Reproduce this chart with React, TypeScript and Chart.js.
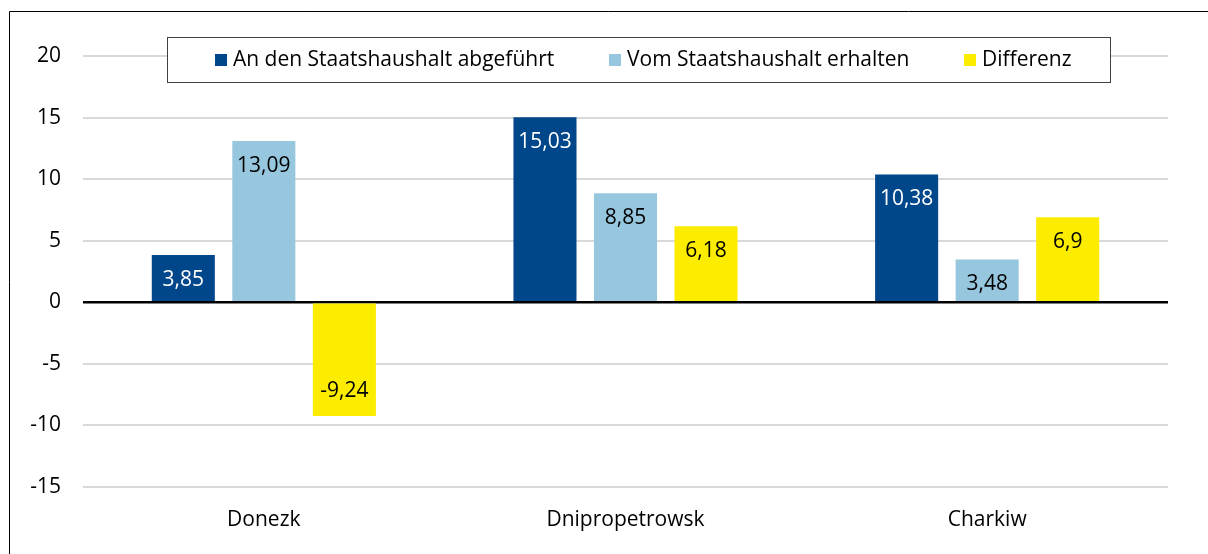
import { useEffect, useRef } from "react";
import { Chart, registerables } from "chart.js";

Chart.register(...registerables);

const categories = ["Donezk", "Dnipropetrowsk", "Charkiw"];
const seriesNames = [
  "An den Staatshaushalt abgeführt",
  "Vom Staatshaushalt erhalten",
  "Differenz",
];
const abgefuehrt = [3.85, 15.03, 10.38];
const erhalten = [13.09, 8.85, 3.48];
const differenz = [-9.24, 6.18, 6.9];
const yMin = -15;
const yMax = 20;
const yStep = 5;

const colors = ["#00468a", "#96c7de", "#fbec00"];
const labelColors = ["#ffffff", "#000000", "#000000"];
const FONT = "'Open Sans', sans-serif";
const FS = 21;

const framePlugin = {
  id: "frame",
  beforeDraw(chart: any) {
    const c = chart.ctx;
    c.save();
    c.fillStyle = "#ffffff";
    c.fillRect(0, 0, chart.width, chart.height);
    c.strokeStyle = "#000000";
    c.lineWidth = 1;
    c.beginPath();
    c.moveTo(9.5, chart.height);
    c.lineTo(9.5, 11.5);
    c.lineTo(chart.width, 11.5);
    c.stroke();
    c.restore();
  },
};

const legendPlugin = {
  id: "boxLegend",
  afterDraw(chart: any) {
    const c = chart.ctx;
    c.save();
    c.fillStyle = "#ffffff";
    c.fillRect(167, 37, 943, 45);
    c.strokeStyle = "#404040";
    c.lineWidth = 1;
    c.strokeRect(167.5, 37.5, 943, 45);
    const sqX = [215, 609, 964];
    c.font = `${FS}px ${FONT}`;
    c.textBaseline = "middle";
    c.textAlign = "left";
    chart.data.datasets.forEach((ds: any, i: number) => {
      c.fillStyle = ds.backgroundColor;
      c.fillRect(sqX[i], 54, 12, 12);
      c.fillStyle = "#000000";
      c.fillText(ds.label, sqX[i] + 18, 60);
    });
    c.restore();
  },
};

const valueLabelPlugin = {
  id: "valueLabels",
  afterDatasetsDraw(chart: any) {
    const c = chart.ctx;
    c.save();
    c.font = `${FS}px ${FONT}`;
    c.textAlign = "center";
    c.textBaseline = "middle";
    chart.data.datasets.forEach((ds: any, i: number) => {
      const meta = chart.getDatasetMeta(i);
      meta.data.forEach((el: any, j: number) => {
        const v = ds.data[j];
        const y = v >= 0 ? el.y + 25 : el.y - 25;
        c.fillStyle = labelColors[i];
        c.fillText(String(v).replace(".", ","), el.x, y);
      });
    });
    c.restore();
  },
};

export default function App() {
  const ref = useRef<HTMLCanvasElement | null>(null);
  useEffect(() => {
    document.body.style.margin = "0";
    const chart = new Chart(ref.current as HTMLCanvasElement, {
      type: "bar",
      data: {
        labels: categories,
        datasets: [abgefuehrt, erhalten, differenz].map((d, i) => ({
          label: seriesNames[i],
          data: d,
          backgroundColor: colors[i],
          borderWidth: 0,
          categoryPercentage: 0.668,
          barPercentage: 0.783,
        })),
      },
      options: {
        animation: false,
        responsive: false,
        maintainAspectRatio: false,
        layout: { padding: { left: 10, right: 40, top: 56, bottom: 0 } },
        plugins: {
          legend: { display: false },
          tooltip: { enabled: false },
          title: { display: false },
        },
        scales: {
          x: {
            grid: { display: false, drawTicks: false },
            border: { display: false },
            ticks: {
              color: "#000000",
              font: { family: FONT, size: FS },
              padding: 20,
            },
            afterFit: (s: any) => {
              s.height = 67;
            },
          },
          y: {
            min: yMin,
            max: yMax,
            ticks: {
              stepSize: yStep,
              color: "#000000",
              font: { family: FONT, size: FS },
              padding: 22,
            },
            grid: {
              drawTicks: false,
              color: (ctx: any) => (ctx.tick && ctx.tick.value === 0 ? "#000000" : "#d9d9d9"),
              lineWidth: (ctx: any) => (ctx.tick && ctx.tick.value === 0 ? 2.5 : 2),
            },
            border: { display: false },
            afterFit: (s: any) => {
              s.width = 73;
            },
          },
        },
      },
      plugins: [framePlugin, valueLabelPlugin, legendPlugin],
    });
    return () => chart.destroy();
  }, []);
  return (
    <div style={{ width: 1208, height: 554 }}>
      <canvas ref={ref} width={1208} height={554} style={{ display: "block" }} />
    </div>
  );
}
